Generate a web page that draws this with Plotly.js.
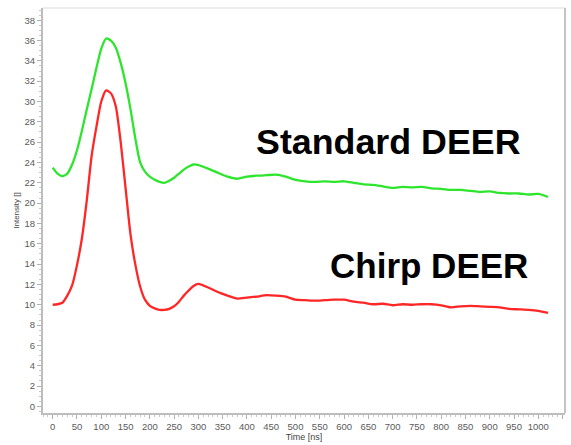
<!DOCTYPE html>
<html>
<head>
<meta charset="utf-8">
<script src="https://cdn.plot.ly/plotly-3.0.1.min.js"></script>
<style>html,body{margin:0;padding:0;background:#fff;}#chart{width:571px;height:445px;}</style>
</head>
<body>
<div id="chart"></div>
<script>
const timeNs = [0,10,20,30,40,50,60,70,80,90,100,110,120,130,140,150,160,170,180,190,200,210,220,230,240,250,260,270,280,290,300,
  320,340,360,380,400,420,440,460,480,500,520,540,560,580,600,620,640,660,680,700,720,740,760,780,800,820,840,860,880,900,920,940,960,980,1000,1020];
const standardDeer = [23.5,22.9,22.65,22.9,23.8,25.2,27.1,29.2,31.2,33.3,35.2,36.2,36.0,35.3,33.8,31.8,29.3,26.4,24.0,23.1,22.6,22.3,22.1,22.0,22.2,22.5,22.9,23.3,23.6,23.8,23.75,
  23.4,23.0,22.6,22.4,22.6,22.7,22.75,22.8,22.6,22.3,22.15,22.1,22.15,22.1,22.15,22.0,21.85,21.8,21.65,21.5,21.6,21.55,21.6,21.45,21.4,21.3,21.3,21.2,21.1,21.15,21.0,20.95,20.95,20.85,20.9,20.6];
const chirpDeer = [10.0,10.05,10.2,10.9,11.9,13.9,16.5,20.2,24.6,27.5,30.0,31.1,30.8,29.5,26.0,21.5,17.0,14.0,11.8,10.5,9.9,9.65,9.5,9.5,9.6,9.85,10.3,10.9,11.4,11.85,12.05,
  11.7,11.25,10.9,10.6,10.7,10.8,10.95,10.9,10.8,10.5,10.45,10.4,10.45,10.5,10.5,10.3,10.2,10.05,10.1,9.95,10.05,10.0,10.05,10.05,9.95,9.75,9.85,9.9,9.85,9.8,9.75,9.6,9.55,9.5,9.4,9.2];
const seriesLabels = ["Standard DEER", "Chirp DEER"];
const labelX = [692, 775];
const labelY = [26.0, 13.9];
const xTickVals = [0,50,100,150,200,250,300,350,400,450,500,550,600,650,700,750,800,850,900,950,1000,1050];
const yTickVals = [0,2,4,6,8,10,12,14,16,18,20,22,24,26,28,30,32,34,36,38];

const font = "Liberation Sans, Arial, sans-serif";
const traces = [
  {x: timeNs, y: standardDeer, type: 'scatter', mode: 'lines', name: seriesLabels[0],
   line: {color: '#2ee52e', width: 2.3, shape: 'spline', smoothing: 0.6}},
  {x: timeNs, y: chirpDeer, type: 'scatter', mode: 'lines', name: seriesLabels[1],
   line: {color: '#ff2626', width: 2.3, shape: 'spline', smoothing: 0.6}}
];
const axisCommon = {
  showgrid: false, zeroline: false, showline: true, linecolor: '#bdbdbd', linewidth: 2,
  ticks: 'outside', ticklen: 4, tickwidth: 1, tickcolor: '#b0b0b0',
  tickfont: {family: font, size: 9.5, color: '#5a5a5a'}
};
const layout = {
  width: 571, height: 445,
  margin: {l: 43, r: 6, t: 8, b: 32},
  paper_bgcolor: '#fff', plot_bgcolor: '#fff',
  showlegend: false,
  xaxis: Object.assign({}, axisCommon, {
    range: [-20, 1055], tickmode: 'array', tickvals: xTickVals,
    minor: {dtick: 10, ticklen: 2, tickcolor: '#c8c8c8', ticks: 'outside', showgrid: false},
    title: {text: 'Time [ns]', font: {family: font, size: 9, color: '#444'}, standoff: 2},
    mirror: false
  }),
  yaxis: Object.assign({}, axisCommon, {
    range: [-0.65, 39.2], tickmode: 'array', tickvals: yTickVals,
    minor: {dtick: 0.5, ticklen: 2, tickcolor: '#c8c8c8', ticks: 'outside', showgrid: false},
    title: {text: 'Intensity []', font: {family: font, size: 8, color: '#444'}, standoff: 4}
  }),
  shapes: [
    {type: 'line', xref: 'paper', yref: 'paper', x0: 0, x1: 1, y0: 1, y1: 1, line: {color: '#ececec', width: 2}},
    {type: 'line', xref: 'paper', yref: 'paper', x0: 1, x1: 1, y0: 0, y1: 1, line: {color: '#c4c4c4', width: 2}}
  ],
  annotations: seriesLabels.map((t, i) => ({
    text: '<b>' + t + '</b>', x: labelX[i], y: labelY[i], xref: 'x', yref: 'y',
    showarrow: false, xanchor: 'center', yanchor: 'middle',
    font: {family: font, size: i === 0 ? 35.8 : 35, color: '#000'}
  }))
};
Plotly.newPlot('chart', traces, layout, {displayModeBar: false, staticPlot: true});
</script>
</body>
</html>
